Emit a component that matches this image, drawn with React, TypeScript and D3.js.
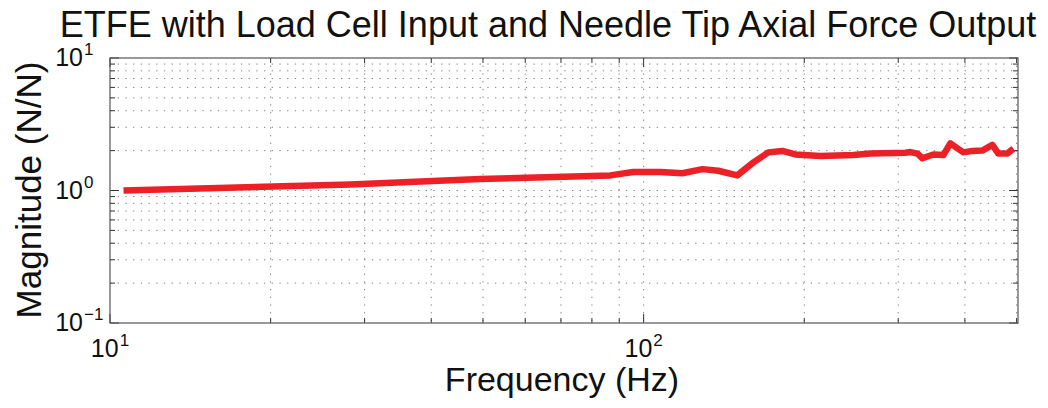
import { useRef, useEffect } from "react";
import * as d3 from "d3";

const title = "ETFE with Load Cell Input and Needle Tip Axial Force Output";
const xLabel = "Frequency (Hz)";
const yLabel = "Magnitude (N/N)";

// frequency (Hz) and magnitude (N/N)
const freq = [
  10.6, 28.2, 49.4, 86.6, 95.6, 107.5, 118.2, 128.9, 138.0, 149.8, 160.6,
  171.3, 182.0, 192.5, 214.4, 247.3, 266.0, 309.4, 316.2, 326.0, 333.1, 349.1,
  364.5, 375.6, 397.3, 413.1, 431.3, 450.3, 462.1, 480.4, 493.1,
];
const mag = [
  1.0, 1.11, 1.22, 1.3, 1.38, 1.38, 1.35, 1.45, 1.41, 1.3, 1.63, 1.94, 1.99,
  1.87, 1.82, 1.85, 1.9, 1.93, 1.95, 1.9, 1.75, 1.87, 1.85, 2.27, 1.94, 1.99,
  2.0, 2.21, 1.9, 1.9, 2.07,
];

const xDomain = [10, 503];
const yDomain = [0.1, 10];
const xMajor = [10, 100];
const yMajor = [0.1, 1, 10];

export default function App() {
  const svgRef = useRef<SVGSVGElement>(null);

  useEffect(() => {
    if (!svgRef.current) return;
    const svg = d3.select(svgRef.current);
    svg.selectAll("*").remove();

    const width = 1048;
    const height = 408;
    const margin = { top: 58, right: 30, bottom: 85, left: 110 };
    const w = width - margin.left - margin.right;
    const h = height - margin.top - margin.bottom;
    const font = "'Liberation Sans', Arial, Helvetica, sans-serif";

    const x = d3.scaleLog().domain(xDomain).range([0, w]);
    const y = d3.scaleLog().domain(yDomain).range([h, 0]);

    const g = svg
      .append("g")
      .attr("transform", `translate(${margin.left},${margin.top})`);

    // log grid positions: 1..9 times each decade
    const xGrid = x.ticks().filter((v) => v > xDomain[0] && v < xDomain[1]);
    const yGrid = y.ticks().filter((v) => v > yDomain[0] && v < yDomain[1]);
    const isMajor = (v: number) =>
      Math.abs(Math.log10(v) - Math.round(Math.log10(v))) < 1e-6;

    g.selectAll(".vgrid")
      .data(xGrid)
      .join("line")
      .attr("x1", (d) => x(d))
      .attr("x2", (d) => x(d))
      .attr("y1", 0)
      .attr("y2", h)
      .attr("stroke", "#808080")
      .attr("stroke-width", 1)
      .attr("stroke-dasharray", "1.3 6.4");

    g.selectAll(".hgrid")
      .data(yGrid)
      .join("line")
      .attr("x1", 0)
      .attr("x2", w)
      .attr("y1", (d) => y(d))
      .attr("y2", (d) => y(d))
      .attr("stroke", "#808080")
      .attr("stroke-width", 1)
      .attr("stroke-dasharray", "1.3 6.4");

    // inward ticks on all four sides
    const xTicks = x.ticks().filter((v) => v >= xDomain[0] && v <= xDomain[1]);
    const yTicks = y.ticks().filter((v) => v >= yDomain[0] && v <= yDomain[1]);
    const tickLen = (v: number) => (isMajor(v) ? 9 : 5);
    const tickColor = "#333";

    xTicks.forEach((v) => {
      const px = x(v);
      g.append("line")
        .attr("x1", px).attr("x2", px)
        .attr("y1", h).attr("y2", h - tickLen(v))
        .attr("stroke", tickColor);
      g.append("line")
        .attr("x1", px).attr("x2", px)
        .attr("y1", 0).attr("y2", tickLen(v))
        .attr("stroke", tickColor);
    });
    yTicks.forEach((v) => {
      const py = y(v);
      g.append("line")
        .attr("x1", 0).attr("x2", tickLen(v))
        .attr("y1", py).attr("y2", py)
        .attr("stroke", tickColor);
      g.append("line")
        .attr("x1", w).attr("x2", w - tickLen(v))
        .attr("y1", py).attr("y2", py)
        .attr("stroke", tickColor);
    });

    g.append("rect")
      .attr("width", w)
      .attr("height", h)
      .attr("fill", "none")
      .attr("stroke", "#555")
      .attr("stroke-width", 1.2);

    // data line
    const pts = freq.map((f, i) => [f, mag[i]] as [number, number]);
    const line = d3
      .line<[number, number]>()
      .x((d) => x(d[0]))
      .y((d) => y(d[1]));

    g.append("path")
      .datum(pts)
      .attr("d", line)
      .attr("fill", "none")
      .attr("stroke", "#ec2027")
      .attr("stroke-width", 6.5)
      .attr("stroke-linejoin", "round");

    // x tick labels 10^n
    xMajor.forEach((v) => {
      const t = g
        .append("text")
        .attr("x", x(v))
        .attr("y", h + 34)
        .attr("text-anchor", "middle")
        .attr("font-family", font)
        .attr("font-size", 25)
        .attr("fill", "#111");
      t.append("tspan").text("10");
      t.append("tspan")
        .attr("dy", -11)
        .attr("dx", 1)
        .attr("font-size", 17)
        .text(String(Math.round(Math.log10(v))));
    });

    // y tick labels 10^n
    yMajor.forEach((v) => {
      const py = y(v);
      const e = Math.round(Math.log10(v));
      g.append("text")
        .attr("x", -27)
        .attr("y", py + 8)
        .attr("text-anchor", "end")
        .attr("font-family", font)
        .attr("font-size", 25)
        .attr("fill", "#111")
        .text("10");
      g.append("text")
        .attr("x", -26)
        .attr("y", py - 3)
        .attr("text-anchor", "start")
        .attr("font-family", font)
        .attr("font-size", 17)
        .attr("fill", "#111")
        .text(e < 0 ? `\u2212${-e}` : String(e));
    });

    svg
      .append("text")
      .attr("x", 548)
      .attr("y", 37)
      .attr("text-anchor", "middle")
      .attr("font-family", font)
      .attr("font-size", 36)
      .attr("fill", "#111")
      .text(title);

    svg
      .append("text")
      .attr("x", 562)
      .attr("y", 391)
      .attr("text-anchor", "middle")
      .attr("font-family", font)
      .attr("font-size", 34)
      .attr("fill", "#111")
      .text(xLabel);

    svg
      .append("text")
      .attr("transform", `translate(41,190) rotate(-90)`)
      .attr("text-anchor", "middle")
      .attr("font-family", font)
      .attr("font-size", 35)
      .attr("fill", "#111")
      .text(yLabel);
  }, []);

  return (
    <svg
      ref={svgRef}
      width={1048}
      height={408}
      style={{ position: "fixed", left: 0, top: 0, background: "#fff" }}
    />
  );
}
